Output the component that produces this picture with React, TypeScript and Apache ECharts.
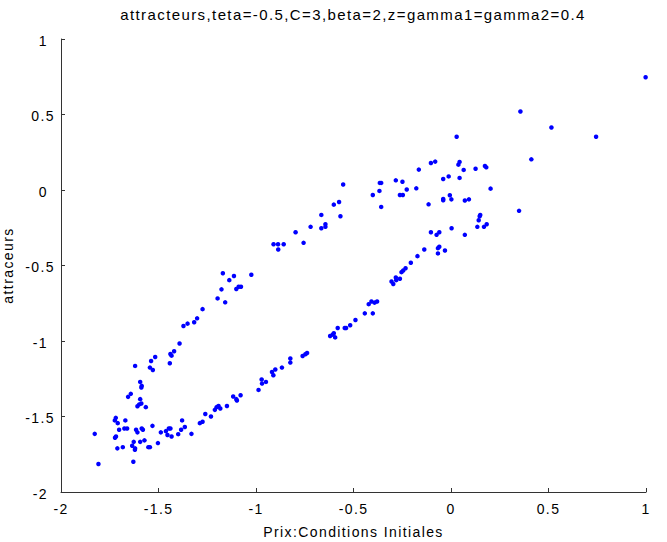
import React, { useEffect, useRef } from "react";
import * as echarts from "echarts";

const titleText = "attracteurs,teta=-0.5,C=3,beta=2,z=gamma1=gamma2=0.4";
const xName = "Prix:Conditions Initiales";
const yName = "attraceurs";

const xValues: number[] = [
  -1.274, -1.158, -1.197, -1.302, -1.317, -1.351, -1.372, -1.392, -1.420, -1.439,
  -1.433, -1.442, -1.517, -1.538, -1.620, -1.544, -1.529, -1.594, -1.586, -1.588,
  -1.642, -1.656, -1.594, -1.588, -1.599, -1.608, -1.565, -1.719, -1.724, -1.709,
  -1.670, -1.675, -1.661, -1.702, -1.827, -1.615, -1.608, -1.586, -1.580, -1.531,
  -1.488, -1.462, -1.447, -1.439, -1.454, -1.433, -1.399, -1.384, -1.365, -1.379,
  -1.331, -1.288, -1.274, -1.260, -1.231, -1.211, -1.202, -1.192, -1.183, -1.149,
  -1.117, -1.101, -1.098, -1.079, -0.987, -1.723, -1.718, -1.711, -1.683, -1.635,
  -1.627, -1.621, -1.620, -1.594, -1.572, -1.552, -1.544, -1.503, -1.808, -1.629,
  -1.170, -1.113, -1.024, -1.137, -1.177, -1.101, -1.089, -1.077, -0.910, -0.887,
  -0.858, -0.886, -0.797, -0.756, -0.720, -0.665, -0.665, -0.644, -0.644, -0.601,
  -0.574, -0.567, -0.553, -0.401, -0.365, -0.358, -0.367, -0.358, -0.283, -0.249,
  -0.262, -0.247, -0.227, -0.178, -0.165, -0.103, -0.081, -0.040, -0.012, -0.040,
  -0.040, -0.006, 0.002, -0.115, 0.029, 0.038, 0.044, 0.065, 0.126, 0.174,
  0.181, 0.044, 0.203, 0.071, 0.092, 0.356, 0.515, 0.744, 0.412, 0.998,
  0.349, -0.971, -0.969, -0.949, -0.918, -0.911, -0.901, -0.867, -0.824, -0.824,
  -0.761, -0.747, -0.738, -0.620, -0.607, -0.594, -0.601, -0.581, -0.545, -0.538,
  -0.517, -0.490, -0.442, -0.401, -0.422, -0.408, -0.392, -0.379, -0.305, -0.296,
  -0.283, -0.281, -0.262, -0.254, -0.245, -0.233, -0.206, -0.172, -0.137, -0.067,
  -0.060, -0.067, -0.031, -0.103, -0.060, -0.074, 0.003, 0.071, 0.135, 0.169,
  0.183, 0.142, 0.150, 0.147,
];

const yValues: number[] = [
  -0.789, -0.744, -0.718, -0.850, -0.876, -0.885, -0.901, -1.017, -1.068, -1.086,
  -1.097, -1.147, -1.106, -1.132, -1.165, -1.176, -1.192, -1.271, -1.297, -1.308,
  -1.350, -1.370, -1.385, -1.414, -1.420, -1.432, -1.438, -1.509, -1.526, -1.544,
  -1.526, -1.579, -1.579, -1.588, -1.615, -1.588, -1.605, -1.579, -1.588, -1.562,
  -1.605, -1.597, -1.579, -1.579, -1.623, -1.632, -1.617, -1.588, -1.570, -1.526,
  -1.615, -1.544, -1.535, -1.483, -1.500, -1.456, -1.438, -1.430, -1.447, -1.430,
  -1.368, -1.385, -1.394, -1.359, -1.324, -1.641, -1.632, -1.711, -1.703, -1.694,
  -1.668, -1.720, -1.711, -1.668, -1.658, -1.703, -1.703, -1.676, -1.815, -1.800,
  -0.551, -0.570, -0.561, -0.597, -0.658, -0.656, -0.641, -0.641, -0.359, -0.359,
  -0.359, -0.394, -0.280, -0.350, -0.244, -0.165, -0.253, -0.227, -0.244, -0.097,
  -0.079, -0.174, 0.036, -0.033, 0.047, 0.047, -0.006, -0.112, 0.064, 0.055,
  -0.033, -0.033, 0.003, 0.011, 0.135, 0.179, 0.188, 0.073, 0.090, -0.059,
  -0.068, -0.035, -0.062, -0.095, 0.353, 0.168, 0.186, 0.133, 0.141, 0.159,
  0.150, 0.080, 0.009, -0.070, -0.062, 0.520, 0.414, 0.353, 0.203, 0.747,
  -0.138, -1.255, -1.282, -1.271, -1.205, -1.227, -1.189, -1.176, -1.116, -1.143,
  -1.099, -1.088, -1.079, -0.967, -0.958, -0.976, -0.949, -0.914, -0.914, -0.914,
  -0.896, -0.861, -0.817, -0.817, -0.756, -0.738, -0.746, -0.738, -0.606, -0.623,
  -0.579, -0.597, -0.588, -0.544, -0.533, -0.518, -0.482, -0.438, -0.394, -0.385,
  -0.376, -0.420, -0.401, -0.280, -0.280, -0.297, -0.253, -0.297, -0.244, -0.244,
  -0.227, -0.200, -0.165, -0.174,
];

const xTicks = { min: -2, max: 1, interval: 0.5 };
const yTicks = { min: -2, max: 1, interval: 0.5 };

const FONT = "'Liberation Sans', Arial, sans-serif";
const FS = 14;

export default function App() {
  const ref = useRef<HTMLDivElement>(null);
  useEffect(() => {
    if (!ref.current) return;
    const chart = echarts.init(ref.current, undefined, { renderer: "svg" });
    const points = xValues.map((x, i) => [x, yValues[i]]);
    const axisColor = "#333333";
    chart.setOption({
      animation: false,
      backgroundColor: "#ffffff",
      title: {
        text: titleText,
        left: 348,
        textAlign: "center",
        top: 2,
        textStyle: { fontFamily: FONT, fontSize: 15, fontWeight: "normal", color: "#000" },
      },
      grid: {
        left: 61,
        right: 21,
        top: 39,
        bottom: 50,
        containLabel: false,
        outerBoundsMode: "none",
      },
      xAxis: {
        type: "value",
        min: xTicks.min,
        max: xTicks.max,
        interval: xTicks.interval,
        name: xName,
        nameLocation: "middle",
        nameGap: 33,
        nameTextStyle: { fontFamily: FONT, fontSize: FS, color: "#000" },
        axisLine: { show: true, onZero: false, lineStyle: { color: axisColor, width: 1 } },
        axisTick: { show: true, inside: true, length: 4, lineStyle: { color: axisColor } },
        axisLabel: {
          fontFamily: FONT,
          fontSize: FS,
          color: "#000",
          margin: 10,
          formatter: (v: number) => String(v),
        },
        splitLine: { show: false },
      },
      yAxis: {
        type: "value",
        min: yTicks.min,
        max: yTicks.max,
        interval: yTicks.interval,
        name: yName,
        nameLocation: "middle",
        nameGap: 46,
        nameRotate: 90,
        nameTextStyle: { fontFamily: FONT, fontSize: FS, color: "#000" },
        axisLine: { show: true, onZero: false, lineStyle: { color: axisColor, width: 1 } },
        axisTick: { show: true, inside: true, length: 4, lineStyle: { color: axisColor } },
        axisLabel: {
          fontFamily: FONT,
          fontSize: FS,
          color: "#000",
          margin: 6,
          formatter: (v: number) =>
            Number.isInteger(v) ? `{i|${v}}` : `{d|${v}}`,
          rich: {
            i: { fontFamily: FONT, fontSize: FS, color: "#000", padding: [3, 7, 0, 0] },
            d: { fontFamily: FONT, fontSize: FS, color: "#000", padding: [3, 0, 0, 0] },
          },
        },
        splitLine: { show: false },
      },
      series: [
        {
          type: "scatter",
          data: points,
          symbol: "circle",
          symbolSize: 4.5,
          itemStyle: { color: "#0000ff", opacity: 1 },
          silent: true,
        },
      ],
    });
    return () => chart.dispose();
  }, []);
  return (
    <>
      <style>{`#chart-host text { letter-spacing: 1.4px; }`}</style>
      <div
        id="chart-host"
        ref={ref}
        style={{ position: "absolute", left: 0, top: 0, width: 667, height: 542 }}
      />
    </>
  );
}
